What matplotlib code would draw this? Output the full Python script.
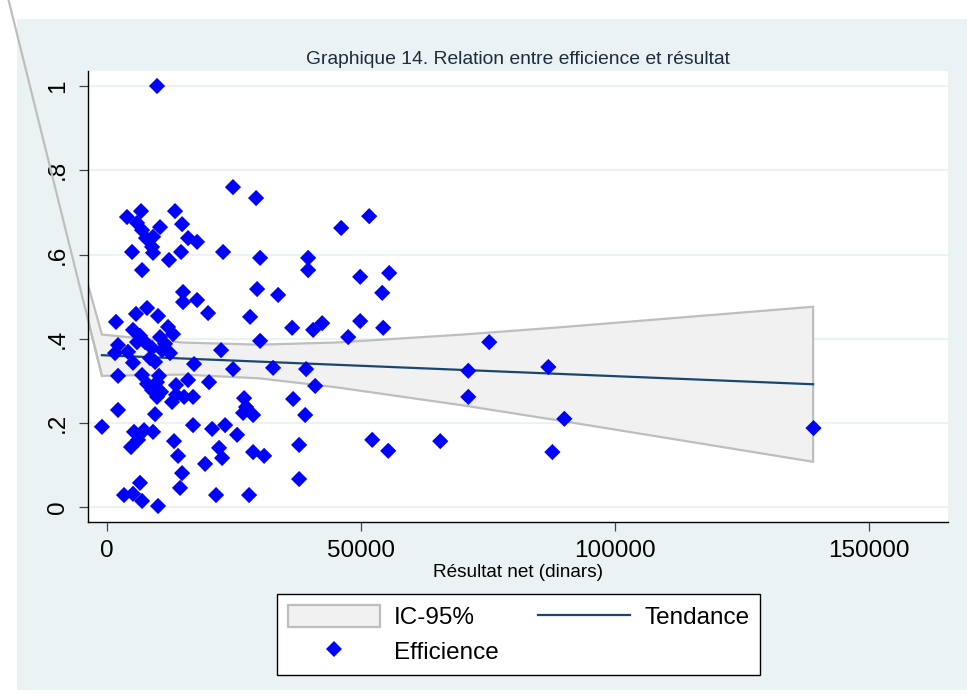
import numpy as np
import matplotlib
matplotlib.use("Agg")
import matplotlib.pyplot as plt
from matplotlib.patches import Rectangle, Patch
from matplotlib.lines import Line2D

plt.rcParams["font.family"] = ["Liberation Sans", "DejaVu Sans"]

# efficience vs résultat net (dinars)
res_net = [9850, 24800, 29350, 3940, 6700, 5910, 6900, 7680, 10440, 9060,
           8870, 13400, 14780, 15960, 17730, 4930, 9060, 12210, 14580, 6900,
           22850, 30140, 39600, 39600, 29550, 33690, 14970, 14970, 17730, 19900,
           28170, 36450, 40580, 42360, 30140, 22460, 1770, 5710, 7880, 10050,
           12020, 13000, 5120, 2170, 1580, 5910, 7490, 8870, 10840, 12410,
           8470, 9460, 5120, 17140, 24820, 32700, 39200, 40980, 2170, 6900,
           10240, 7880, 9850, 8870, 10640, 9850, 13590, 15960, 13590, 15170,
           16940, 12810, 20090, 26990, 27380, 28760, 26790, 36640, 39010, 2170,
           9460, -990, 5320, 7290, 9060, 6110, 4730, 16940, 20690, 23250,
           25610, 13200, 13990, 19310, 22060, 22660, 28760, 30930, 37820, 14780,
           14380, 6500, 3350, 5120, 6900, 10050, 21470, 27970, 37820, 46100,
           51610, 49840, 55550, 54180, 49840, 54370, 47480, 75250, 71120, 86880,
           71120, 90030, 52210, 55360, 65600, 87670, 139080, 6500, 10440, 11430,
           4140]
efficience = [1.0, 0.760, 0.734, 0.689, 0.703, 0.675, 0.658, 0.639, 0.665, 0.642,
              0.618, 0.703, 0.672, 0.639, 0.630, 0.606, 0.604, 0.587, 0.606, 0.563,
              0.606, 0.592, 0.592, 0.563, 0.518, 0.504, 0.511, 0.487, 0.492, 0.461,
              0.452, 0.426, 0.421, 0.437, 0.395, 0.373, 0.440, 0.459, 0.473, 0.454,
              0.428, 0.411, 0.421, 0.385, 0.366, 0.392, 0.392, 0.378, 0.373, 0.366,
              0.354, 0.345, 0.343, 0.340, 0.328, 0.331, 0.328, 0.288, 0.312, 0.314,
              0.312, 0.293, 0.297, 0.278, 0.274, 0.262, 0.290, 0.302, 0.267, 0.262,
              0.262, 0.250, 0.297, 0.259, 0.238, 0.219, 0.224, 0.257, 0.219, 0.231,
              0.221, 0.191, 0.179, 0.183, 0.179, 0.160, 0.143, 0.195, 0.186, 0.195,
              0.172, 0.157, 0.122, 0.103, 0.141, 0.117, 0.131, 0.122, 0.148, 0.081,
              0.046, 0.058, 0.029, 0.032, 0.015, 0.003, 0.029, 0.029, 0.067, 0.663,
              0.691, 0.547, 0.556, 0.509, 0.442, 0.426, 0.404, 0.392, 0.324, 0.333,
              0.262, 0.210, 0.160, 0.134, 0.157, 0.131, 0.188, 0.407, 0.404, 0.388,
              0.369]

# linear fit and 95% band as drawn
fit_x = [-1000, 139000]
fit_y = [0.361, 0.292]
ci_x = [-1000, 15000, 30000, 45000, 70000, 90000, 139000]
ci_hi = [0.410, 0.391, 0.386, 0.391, 0.410, 0.428, 0.476]
ci_lo = [0.312, 0.315, 0.306, 0.285, 0.242, 0.204, 0.108]
# stray first vertex of the band, far outside the plot region
ci_far = (-19500, 1.21)

bg = "#EAF2F3"
band_face = "#F1F1F1"
band_edge = "#BEBEBE"
navy = "#1A476F"
fs = 17.5

fig = plt.figure(figsize=(9.67, 6.97), dpi=100)
fig.patch.set_facecolor("white")
fig.add_artist(Rectangle((17 / 967, 1 - 690 / 697), 950 / 967, 671 / 697,
                         transform=fig.transFigure, facecolor=bg,
                         edgecolor="none", zorder=-5))

ax = fig.add_axes([88 / 967, 1 - 521.6 / 697, 860 / 967, 450.6 / 697])
ax.set_facecolor("white")

poly_x = [ci_far[0]] + ci_x + ci_x[::-1]
poly_y = [ci_far[1]] + ci_hi + ci_lo[::-1]
ax.fill(poly_x, poly_y, facecolor=band_face, edgecolor=band_edge,
        linewidth=1.6, zorder=1)
# the edge back to the stray vertex is not clipped in the original
ax.plot([ci_far[0], ci_x[0]], [ci_far[1], ci_lo[0]], color=band_edge,
        linewidth=1.6, clip_on=False, zorder=1)
ax.plot(fit_x, fit_y, color=navy, linewidth=1.6, zorder=2)
ax.scatter(res_net, efficience, marker="D", s=68, color="#0000FF",
           edgecolors="none", zorder=3)

ax.set_xlim(-3740, 165550)
ax.set_ylim(-0.034, 1.0356)
ax.set_xticks([0, 50000, 100000, 150000])
ax.set_xticklabels(["0", "50000", "100000", "150000"])
ax.set_yticks([0, 0.2, 0.4, 0.6, 0.8, 1.0])
ax.set_yticklabels(["0", ".2", ".4", ".6", ".8", "1"], rotation=90, va="center")
ax.grid(axis="y", color=bg, linewidth=1.5)
ax.grid(axis="x", visible=False)
ax.set_axisbelow(True)

for s in ["top", "right"]:
    ax.spines[s].set_visible(False)
for s in ["left", "bottom"]:
    ax.spines[s].set_color("black")
    ax.spines[s].set_linewidth(1.0)
ax.tick_params(axis="both", length=6.5, width=0.9, color="#444444",
               labelsize=fs, pad=7)

ax.set_title("Graphique 14. Relation entre efficience et résultat",
             fontsize=13.9, color="#1E2D3D", pad=5)
ax.set_xlabel("Résultat net (dinars)", fontsize=13.7, labelpad=1)

handles = [Patch(facecolor=band_face, edgecolor=band_edge, linewidth=1.6),
           Line2D([], [], marker="D", linestyle="none", color="#0000FF",
                  markersize=8.5, markeredgewidth=0),
           Line2D([], [], color=navy, linewidth=1.6)]
labels = ["IC-95%", "Efficience", "Tendance"]
leg = fig.legend(handles, labels, ncol=2, loc="upper left",
                 bbox_to_anchor=(277 / 967, 1 - 594 / 697),
                 fontsize=fs, frameon=True, fancybox=False, shadow=False,
                 edgecolor="black", framealpha=1, borderaxespad=0,
                 handlelength=3.78, handleheight=1.03, handletextpad=0.58,
                 columnspacing=1.62, labelspacing=0.42, borderpad=0.45)
leg.get_frame().set_linewidth(1.0)

fig.savefig("out.png", dpi=100, facecolor="white")
